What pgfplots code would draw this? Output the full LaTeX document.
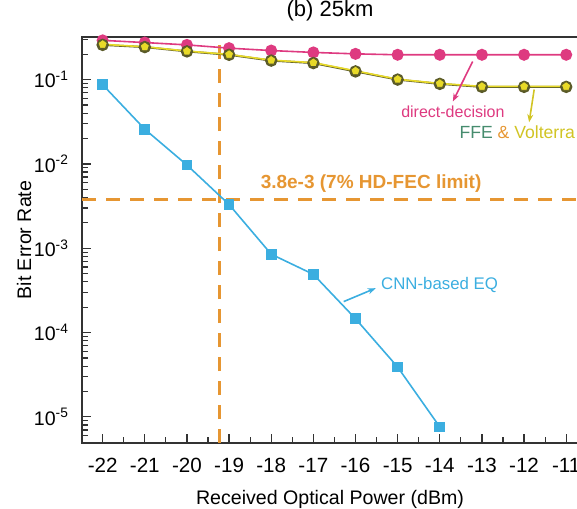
\documentclass[border=0pt]{standalone}
\usepackage{pgfplots}
\pgfplotsset{compat=1.18}
\usepackage{fontspec}
\setmainfont{Liberation Sans}
\usetikzlibrary{arrows.meta}

\definecolor{cnnblue}{RGB}{59,174,224}
\definecolor{ddmag}{RGB}{222,58,128}
\definecolor{volyel}{RGB}{232,218,40}
\definecolor{ffedark}{RGB}{90,90,40}
\definecolor{fecorange}{RGB}{230,150,50}
\definecolor{ffegreen}{RGB}{70,140,110}

\begin{document}
\begin{tikzpicture}
\useasboundingbox (-41pt,-32.5pt) rectangle (247.5pt,221.5pt);
\clip (-41pt,-32.5pt) rectangle (247.5pt,221.5pt);
\begin{axis}[
  at={(0,0)}, anchor=south west,
  scale only axis,
  width=248pt, height=203pt,
  xmin=-22.49, xmax=-10.72,
  ymode=log, log basis y=10,
  ymin=4.9e-6, ymax=0.32,
  xtick={-22,-21,...,-11},
  xticklabels={-22,-21,-20,-19,-18,-17,-16,-15,-14,-13,-12,-11},
  minor x tick num=1,
  yticklabel={\pgfmathparse{int(round(\tick))}10\textsuperscript{\pgfmathresult}},
  tick align=inside,
  xtick pos=bottom, ytick pos=left,
  axis line style={line width=1pt, black!80},
  every tick/.style={black!80, line width=0.6pt},
  tick label style={font=\fontsize{10.3}{12}\selectfont},
  xticklabel style={yshift=-4pt},
  yticklabel style={xshift=-3pt, font=\fontsize{9.8}{12}\selectfont},
  title={(b) 25km},
  title style={font=\fontsize{11}{13}\selectfont, yshift=-1.5pt},
  xlabel={Received Optical Power (dBm)},
  ylabel={Bit Error Rate},
  label style={font=\fontsize{9.8}{11}\selectfont},
  xlabel style={yshift=-2pt},
  ylabel style={yshift=-5.5pt},
]
% FEC threshold
\addplot[fecorange, line width=1.5pt, dash pattern=on 7pt off 5pt, forget plot]
  coordinates {(-22.49,3.8e-3) (-10.72,3.8e-3)};
\addplot[fecorange, line width=1.5pt, dash pattern=on 7pt off 5pt, forget plot]
  coordinates {(-19.22,4.9e-6) (-19.22,0.32)};

% direct-decision
\addplot[ddmag, line width=0.8pt, mark=*, mark size=2.6pt, mark options={fill=ddmag, draw=ddmag}]
  coordinates {
  (-22,0.292) (-21,0.275) (-20,0.258) (-19,0.236) (-18,0.221) (-17,0.210)
  (-16,0.202) (-15,0.197) (-14,0.197) (-13,0.197) (-12,0.197) (-11,0.197)
  };

% FFE
\addplot[ffedark, line width=1pt, mark=*, mark size=2.6pt, mark options={fill=ffedark!80!black, draw=ffedark}]
  coordinates {
  (-22,0.258) (-21,0.243) (-20,0.216) (-19,0.197) (-18,0.168) (-17,0.157)
  (-16,0.125) (-15,0.100) (-14,0.089) (-13,0.082) (-12,0.082) (-11,0.082)
  };

% Volterra
\addplot[volyel, line width=0.8pt, mark=pentagon*, mark size=2.4pt, mark options={fill=volyel, draw=ffedark, line width=0.4pt}]
  coordinates {
  (-22,0.262) (-21,0.245) (-20,0.218) (-19,0.199) (-18,0.170) (-17,0.159)
  (-16,0.127) (-15,0.101) (-14,0.090) (-13,0.083) (-12,0.083) (-11,0.083)
  };

% CNN-based EQ
\addplot[cnnblue, line width=0.8pt, mark=square*, mark size=2.3pt, mark options={fill=cnnblue, draw=cnnblue}]
  coordinates {
  (-22,8.7e-2) (-21,2.58e-2) (-20,9.7e-3) (-19,3.3e-3) (-18,8.5e-4)
  (-17,4.9e-4) (-16,1.46e-4) (-15,3.9e-5) (-14,7.6e-6)
  };

% annotations
\node[font=\bfseries\fontsize{9.5}{11}\selectfont, text=fecorange] at (axis cs:-15.63,5.8e-3) {3.8e-3 (7\% HD-FEC limit)};
\node[font=\fontsize{8}{10}\selectfont, text=ddmag] at (axis cs:-13.69,0.041) {direct-decision};
\draw[ddmag, line width=0.8pt, -{Stealth[length=4pt]}] (axis cs:-13.22,0.164) -- (axis cs:-13.69,0.055);
\node[font=\fontsize{8.8}{10}\selectfont, anchor=west, inner sep=0pt] at (axis cs:-13.54,0.0238)
  {\textcolor{ffegreen}{FFE} \textcolor{fecorange}{\&} \textcolor{volyel!90!black}{Volterra}};
\draw[volyel!90!black, line width=0.8pt, -{Stealth[length=4pt]}] (axis cs:-11.76,0.0763) -- (axis cs:-11.88,0.0312);
\node[font=\fontsize{8.4}{10}\selectfont, anchor=west, inner sep=0pt, text=cnnblue] at (axis cs:-15.40,3.67e-4) {CNN-based EQ};
\draw[cnnblue, line width=0.8pt, -{Stealth[length=4pt]}] (axis cs:-16.28,2.33e-4) -- (axis cs:-15.52,3.36e-4);
\end{axis}
\end{tikzpicture}
\end{document}
